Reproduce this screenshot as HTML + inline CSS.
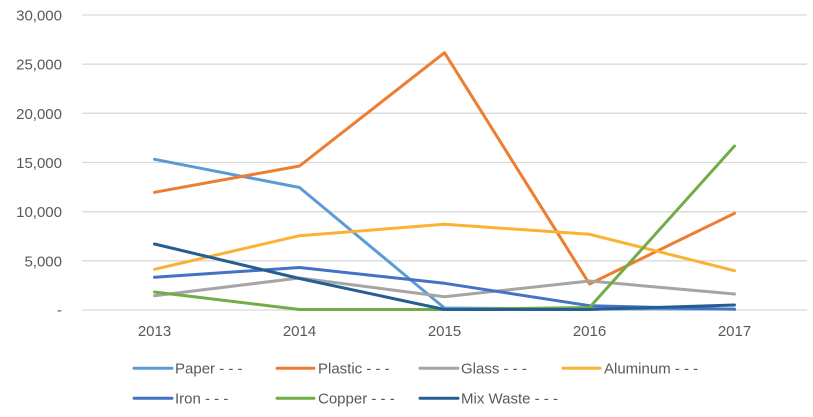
<!DOCTYPE html>
<html><head><meta charset="utf-8"><style>
html,body{margin:0;padding:0;background:#fff;}
svg{display:block;}
text{font-family:"Liberation Sans",sans-serif;fill:#595959;font-size:15px;}
</style></head><body>
<svg width="813" height="417" viewBox="0 0 813 417" xmlns="http://www.w3.org/2000/svg">
<g stroke="#d9d9d9" stroke-width="1.3">
<line x1="82" y1="15" x2="807" y2="15"/>
<line x1="82" y1="64.2" x2="807" y2="64.2"/>
<line x1="82" y1="113.3" x2="807" y2="113.3"/>
<line x1="82" y1="162.5" x2="807" y2="162.5"/>
<line x1="82" y1="211.7" x2="807" y2="211.7"/>
<line x1="82" y1="260.8" x2="807" y2="260.8"/>
<line x1="82" y1="310" x2="807" y2="310"/>
</g>
<g text-anchor="end">
<text x="62" y="20.5">30,000</text>
<text x="62" y="69.7">25,000</text>
<text x="62" y="118.8">20,000</text>
<text x="62" y="168">15,000</text>
<text x="62" y="217.2">10,000</text>
<text x="62" y="266.3">5,000</text>
<text x="62" y="315">-</text>
</g>
<g text-anchor="middle" style="font-size:14.5px">
<text x="154.5" y="336">2013</text>
<text x="299.5" y="336">2014</text>
<text x="444.5" y="336">2015</text>
<text x="589.5" y="336">2016</text>
<text x="734.5" y="336">2017</text>
</g>
<g fill="none" stroke-width="3" stroke-linejoin="round" stroke-linecap="round">
<polyline stroke="#5B9BD5" points="154.5,159.3 299.5,187.5 444.5,308 589.5,309 734.5,309"/>
<polyline stroke="#ED7D31" points="154.5,192.3 299.5,166 444.5,52.7 589.5,284 734.5,213.3"/>
<polyline stroke="#A5A5A5" points="154.5,295.7 299.5,278 444.5,296.7 589.5,281 734.5,294"/>
<polyline stroke="#F9B233" points="154.5,269.3 299.5,235.7 444.5,224.3 589.5,234.3 734.5,270.7"/>
<polyline stroke="#4472C4" points="154.5,277.3 299.5,267.5 444.5,283.3 589.5,305.7 734.5,309.3"/>
<polyline stroke="#70AD47" points="154.5,292 299.5,309.5 444.5,309.5 589.5,307.5 734.5,146"/>
<polyline stroke="#255E91" points="154.5,244 299.5,278.5 444.5,309.5 589.5,309.5 734.5,305"/>
</g>
<g stroke-width="3" stroke-linecap="round">
<line x1="134" y1="368.3" x2="172" y2="368.3" stroke="#5B9BD5"/>
<line x1="277" y1="368.3" x2="314" y2="368.3" stroke="#ED7D31"/>
<line x1="420" y1="368.3" x2="458" y2="368.3" stroke="#A5A5A5"/>
<line x1="563" y1="368.3" x2="600" y2="368.3" stroke="#F9B233"/>
<line x1="134" y1="398.3" x2="172" y2="398.3" stroke="#4472C4"/>
<line x1="277" y1="398.3" x2="314" y2="398.3" stroke="#70AD47"/>
<line x1="420" y1="398.3" x2="458" y2="398.3" stroke="#255E91"/>
</g>
<text x="175" y="373.5">Paper - - -</text>
<text x="318" y="373.5">Plastic - - -</text>
<text x="461" y="373.5">Glass - - -</text>
<text x="604" y="373.5">Aluminum - - -</text>
<text x="175" y="403.5">Iron - - -</text>
<text x="318" y="403.5">Copper - - -</text>
<text x="461" y="403.5">Mix Waste - - -</text>
</svg>
</body></html>
